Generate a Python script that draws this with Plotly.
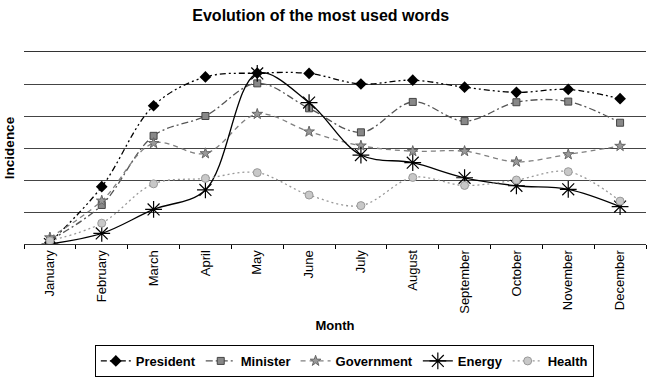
import plotly.graph_objects as go

months = ["January", "February", "March", "April", "May", "June", "July",
          "August", "September", "October", "November", "December"]

president = [0.05, 1.79, 4.32, 5.22, 5.34, 5.33, 5.00, 5.12, 4.90, 4.74, 4.83, 4.54]
minister = [0.12, 1.22, 3.38, 4.00, 5.02, 4.24, 3.49, 4.44, 3.84, 4.43, 4.45, 3.79]
government = [0.20, 1.35, 3.15, 2.83, 4.06, 3.51, 3.07, 2.90, 2.90, 2.57, 2.80, 3.06]
energy = [0.00, 0.33, 1.08, 1.69, 5.33, 4.42, 2.78, 2.54, 2.07, 1.82, 1.71, 1.17]
health = [0.10, 0.65, 1.88, 2.05, 2.23, 1.53, 1.20, 2.08, 1.83, 2.00, 2.26, 1.34]

series = [
    ("President", president, "#000000", "6px,3px,2px,3px,2px,3px",
     dict(symbol="diamond", size=9, color="#000000")),
    ("Minister", minister, "#555555", "7px,3px,2px,3px",
     dict(symbol="square", size=7, color="#888888",
          line=dict(color="#444444", width=1))),
    ("Government", government, "#808080", "5px,4px",
     dict(symbol="star", size=8, color="#999999",
          line=dict(color="#666666", width=1))),
    ("Energy", energy, "#000000", "solid",
     dict(symbol="asterisk-open", size=14, color="#000000",
          line=dict(color="#000000", width=1.2))),
    ("Health", health, "#999999", "2px,3px",
     dict(symbol="circle", size=8, color="#c8c8c8",
          line=dict(color="#999999", width=1))),
]

fig = go.Figure()
for name, vals, color, dash, marker in series:
    fig.add_trace(go.Scatter(
        x=months, y=vals, name=name, mode="lines+markers",
        line=dict(color=color, width=1.3, dash=dash, shape="spline", smoothing=1.0),
        marker=marker,
    ))

font_family = "Liberation Sans, Arial, sans-serif"

fig.update_layout(
    width=648, height=380,
    margin=dict(l=24, r=2, t=52, b=136, autoexpand=False),
    paper_bgcolor="white", plot_bgcolor="white",
    font=dict(family=font_family, size=13, color="#000000"),
    title=dict(text="<b>Evolution of the most used words</b>",
               x=0.495, xanchor="center", y=0.96, yanchor="middle",
               font=dict(size=16, family=font_family)),
    showlegend=True,
    legend=dict(orientation="h", x=0.515, xanchor="center",
                yref="container", y=0.008, yanchor="bottom",
                bordercolor="#000000", borderwidth=1,
                font=dict(size=13, family=font_family, weight="bold"),
                tracegroupgap=0),
)

fig.update_xaxes(
    type="category", range=[-0.5, 11.5],
    tickangle=-90, tickfont=dict(size=13),
    ticks="outside", tickson="boundaries", ticklen=4, tickcolor="#000000",
    showline=True, linecolor="#333333", linewidth=1, mirror=True,
    showgrid=False,
    title=dict(text="<b>Month</b>", font=dict(size=13), standoff=8),
)
fig.update_yaxes(
    range=[0, 6], dtick=1,
    showticklabels=False, ticks="",
    showgrid=True, gridcolor="#444444", gridwidth=1,
    zeroline=False, showline=False,
    title=dict(text="<b>Incidence</b>", font=dict(size=13.5), standoff=5),
)

fig.write_html("out.html")
